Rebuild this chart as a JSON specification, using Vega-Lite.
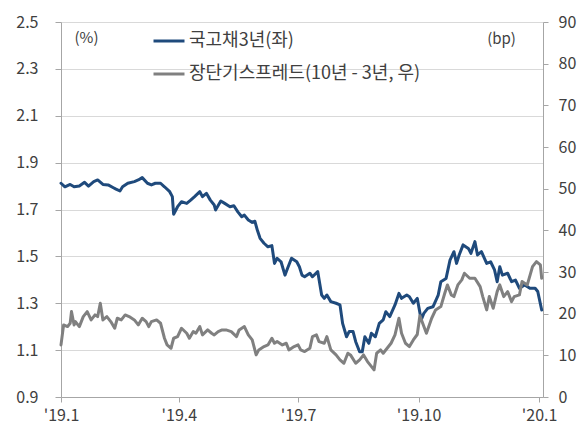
{
  "$schema": "https://vega.github.io/schema/vega-lite/v6.json",
  "width": 482,
  "height": 375,
  "autosize": {"type": "none"},
  "padding": {"left": 61, "top": 22, "right": 40, "bottom": 44},
  "background": "#ffffff",
  "config": {
    "view": {"stroke": null},
    "font": "Noto Sans CJK KR",
    "axis": {"labelFont": "Noto Sans CJK KR", "labelFontSize": 16, "labelColor": "#404040", "domainColor": "#a6a6a6", "tickColor": "#a6a6a6", "titleFont": "Noto Sans CJK KR", "titleFontWeight": "normal", "titleColor": "#404040"},
    "legend": {"labelFont": "Noto Sans CJK KR"}
  },
  "datasets": {
    "bond": [
      {"date": "2019-01-01", "y": 1.812}, {"date": "2019-01-04", "y": 1.797}, {"date": "2019-01-08", "y": 1.807}, {"date": "2019-01-11", "y": 1.797},
      {"date": "2019-01-15", "y": 1.800}, {"date": "2019-01-19", "y": 1.816}, {"date": "2019-01-22", "y": 1.800}, {"date": "2019-01-26", "y": 1.819},
      {"date": "2019-01-29", "y": 1.826}, {"date": "2019-02-02", "y": 1.807}, {"date": "2019-02-06", "y": 1.805}, {"date": "2019-02-10", "y": 1.793},
      {"date": "2019-02-12", "y": 1.787}, {"date": "2019-02-15", "y": 1.779}, {"date": "2019-02-17", "y": 1.797}, {"date": "2019-02-21", "y": 1.812},
      {"date": "2019-02-26", "y": 1.819}, {"date": "2019-03-01", "y": 1.826}, {"date": "2019-03-04", "y": 1.836}, {"date": "2019-03-08", "y": 1.812},
      {"date": "2019-03-11", "y": 1.805}, {"date": "2019-03-14", "y": 1.812}, {"date": "2019-03-18", "y": 1.812}, {"date": "2019-03-21", "y": 1.797},
      {"date": "2019-03-25", "y": 1.776}, {"date": "2019-03-27", "y": 1.755}, {"date": "2019-03-28", "y": 1.680}, {"date": "2019-03-31", "y": 1.712},
      {"date": "2019-04-03", "y": 1.733}, {"date": "2019-04-07", "y": 1.726}, {"date": "2019-04-10", "y": 1.740}, {"date": "2019-04-13", "y": 1.755},
      {"date": "2019-04-17", "y": 1.776}, {"date": "2019-04-19", "y": 1.755}, {"date": "2019-04-22", "y": 1.769}, {"date": "2019-04-25", "y": 1.740},
      {"date": "2019-04-28", "y": 1.719}, {"date": "2019-04-29", "y": 1.698}, {"date": "2019-05-03", "y": 1.736}, {"date": "2019-05-06", "y": 1.726},
      {"date": "2019-05-10", "y": 1.712}, {"date": "2019-05-13", "y": 1.716}, {"date": "2019-05-16", "y": 1.690}, {"date": "2019-05-19", "y": 1.669},
      {"date": "2019-05-21", "y": 1.676}, {"date": "2019-05-24", "y": 1.655}, {"date": "2019-05-27", "y": 1.645}, {"date": "2019-05-29", "y": 1.650},
      {"date": "2019-05-31", "y": 1.610}, {"date": "2019-06-02", "y": 1.577}, {"date": "2019-06-05", "y": 1.556}, {"date": "2019-06-08", "y": 1.541},
      {"date": "2019-06-11", "y": 1.546}, {"date": "2019-06-13", "y": 1.470}, {"date": "2019-06-15", "y": 1.492}, {"date": "2019-06-18", "y": 1.477},
      {"date": "2019-06-21", "y": 1.420}, {"date": "2019-06-23", "y": 1.449}, {"date": "2019-06-26", "y": 1.492}, {"date": "2019-06-30", "y": 1.477},
      {"date": "2019-07-02", "y": 1.456}, {"date": "2019-07-04", "y": 1.420}, {"date": "2019-07-06", "y": 1.413}, {"date": "2019-07-10", "y": 1.428},
      {"date": "2019-07-12", "y": 1.413}, {"date": "2019-07-16", "y": 1.435}, {"date": "2019-07-19", "y": 1.335}, {"date": "2019-07-21", "y": 1.321},
      {"date": "2019-07-23", "y": 1.335}, {"date": "2019-07-26", "y": 1.307}, {"date": "2019-07-30", "y": 1.300}, {"date": "2019-08-02", "y": 1.293},
      {"date": "2019-08-04", "y": 1.214}, {"date": "2019-08-07", "y": 1.157}, {"date": "2019-08-09", "y": 1.179}, {"date": "2019-08-12", "y": 1.179},
      {"date": "2019-08-14", "y": 1.136}, {"date": "2019-08-17", "y": 1.093}, {"date": "2019-08-19", "y": 1.093}, {"date": "2019-08-21", "y": 1.157},
      {"date": "2019-08-24", "y": 1.129}, {"date": "2019-08-26", "y": 1.172}, {"date": "2019-08-29", "y": 1.157}, {"date": "2019-09-01", "y": 1.214},
      {"date": "2019-09-04", "y": 1.229}, {"date": "2019-09-06", "y": 1.264}, {"date": "2019-09-09", "y": 1.243}, {"date": "2019-09-13", "y": 1.293},
      {"date": "2019-09-16", "y": 1.342}, {"date": "2019-09-18", "y": 1.321}, {"date": "2019-09-22", "y": 1.335}, {"date": "2019-09-24", "y": 1.328},
      {"date": "2019-09-27", "y": 1.300}, {"date": "2019-09-30", "y": 1.321}, {"date": "2019-10-03", "y": 1.229}, {"date": "2019-10-05", "y": 1.257},
      {"date": "2019-10-08", "y": 1.278}, {"date": "2019-10-12", "y": 1.285}, {"date": "2019-10-16", "y": 1.335}, {"date": "2019-10-18", "y": 1.392},
      {"date": "2019-10-22", "y": 1.406}, {"date": "2019-10-25", "y": 1.484}, {"date": "2019-10-28", "y": 1.520}, {"date": "2019-10-30", "y": 1.470},
      {"date": "2019-11-01", "y": 1.506}, {"date": "2019-11-04", "y": 1.549}, {"date": "2019-11-08", "y": 1.534}, {"date": "2019-11-10", "y": 1.513},
      {"date": "2019-11-13", "y": 1.563}, {"date": "2019-11-15", "y": 1.506}, {"date": "2019-11-18", "y": 1.520}, {"date": "2019-11-22", "y": 1.470},
      {"date": "2019-11-25", "y": 1.477}, {"date": "2019-11-28", "y": 1.442}, {"date": "2019-11-30", "y": 1.392}, {"date": "2019-12-02", "y": 1.456},
      {"date": "2019-12-04", "y": 1.420}, {"date": "2019-12-08", "y": 1.428}, {"date": "2019-12-11", "y": 1.392}, {"date": "2019-12-14", "y": 1.399},
      {"date": "2019-12-17", "y": 1.364}, {"date": "2019-12-21", "y": 1.378}, {"date": "2019-12-25", "y": 1.364}, {"date": "2019-12-29", "y": 1.364},
      {"date": "2019-12-31", "y": 1.350}, {"date": "2020-01-03", "y": 1.271}
    ],
    "spread": [
      {"date": "2019-01-01", "y": 12.5}, {"date": "2019-01-03", "y": 17.3}, {"date": "2019-01-06", "y": 16.9}, {"date": "2019-01-08", "y": 17.7},
      {"date": "2019-01-09", "y": 20.5}, {"date": "2019-01-11", "y": 17.3}, {"date": "2019-01-12", "y": 18.1}, {"date": "2019-01-15", "y": 16.9},
      {"date": "2019-01-18", "y": 19.3}, {"date": "2019-01-21", "y": 20.5}, {"date": "2019-01-24", "y": 18.5}, {"date": "2019-01-27", "y": 19.7},
      {"date": "2019-01-29", "y": 19.3}, {"date": "2019-01-31", "y": 22.5}, {"date": "2019-02-02", "y": 18.5}, {"date": "2019-02-05", "y": 19.3},
      {"date": "2019-02-08", "y": 18.1}, {"date": "2019-02-11", "y": 16.5}, {"date": "2019-02-13", "y": 18.9}, {"date": "2019-02-16", "y": 18.5},
      {"date": "2019-02-19", "y": 19.7}, {"date": "2019-02-22", "y": 19.3}, {"date": "2019-02-26", "y": 18.5}, {"date": "2019-03-01", "y": 17.3},
      {"date": "2019-03-04", "y": 18.9}, {"date": "2019-03-07", "y": 18.1}, {"date": "2019-03-09", "y": 16.9}, {"date": "2019-03-11", "y": 18.1},
      {"date": "2019-03-15", "y": 18.5}, {"date": "2019-03-18", "y": 17.7}, {"date": "2019-03-21", "y": 14.1}, {"date": "2019-03-23", "y": 12.5},
      {"date": "2019-03-26", "y": 11.7}, {"date": "2019-03-28", "y": 14.1}, {"date": "2019-03-31", "y": 14.5}, {"date": "2019-04-03", "y": 16.5},
      {"date": "2019-04-07", "y": 15.3}, {"date": "2019-04-09", "y": 14.1}, {"date": "2019-04-12", "y": 15.7}, {"date": "2019-04-14", "y": 15.3},
      {"date": "2019-04-17", "y": 16.9}, {"date": "2019-04-19", "y": 14.9}, {"date": "2019-04-23", "y": 16.1}, {"date": "2019-04-26", "y": 15.3},
      {"date": "2019-04-28", "y": 14.9}, {"date": "2019-05-01", "y": 15.7}, {"date": "2019-05-04", "y": 16.1}, {"date": "2019-05-07", "y": 16.1},
      {"date": "2019-05-11", "y": 15.7}, {"date": "2019-05-15", "y": 14.5}, {"date": "2019-05-17", "y": 16.1}, {"date": "2019-05-21", "y": 16.9},
      {"date": "2019-05-24", "y": 14.9}, {"date": "2019-05-27", "y": 13.7}, {"date": "2019-05-30", "y": 10.1}, {"date": "2019-06-01", "y": 11.3},
      {"date": "2019-06-05", "y": 12.1}, {"date": "2019-06-08", "y": 12.5}, {"date": "2019-06-11", "y": 14.1}, {"date": "2019-06-13", "y": 12.9},
      {"date": "2019-06-15", "y": 13.3}, {"date": "2019-06-19", "y": 12.5}, {"date": "2019-06-22", "y": 12.9}, {"date": "2019-06-24", "y": 11.3},
      {"date": "2019-06-28", "y": 12.1}, {"date": "2019-07-01", "y": 12.5}, {"date": "2019-07-03", "y": 11.3}, {"date": "2019-07-06", "y": 10.9},
      {"date": "2019-07-10", "y": 11.7}, {"date": "2019-07-12", "y": 14.5}, {"date": "2019-07-15", "y": 14.9}, {"date": "2019-07-17", "y": 13.3},
      {"date": "2019-07-21", "y": 12.9}, {"date": "2019-07-23", "y": 14.5}, {"date": "2019-07-26", "y": 11.3}, {"date": "2019-07-30", "y": 10.1},
      {"date": "2019-08-02", "y": 8.9}, {"date": "2019-08-05", "y": 8.1}, {"date": "2019-08-08", "y": 10.5}, {"date": "2019-08-10", "y": 10.1},
      {"date": "2019-08-14", "y": 8.1}, {"date": "2019-08-17", "y": 8.9}, {"date": "2019-08-20", "y": 10.1}, {"date": "2019-08-23", "y": 8.5},
      {"date": "2019-08-25", "y": 7.7}, {"date": "2019-08-28", "y": 6.5}, {"date": "2019-08-30", "y": 10.5}, {"date": "2019-09-02", "y": 11.3},
      {"date": "2019-09-04", "y": 10.5}, {"date": "2019-09-07", "y": 11.7}, {"date": "2019-09-10", "y": 12.9}, {"date": "2019-09-13", "y": 14.9},
      {"date": "2019-09-16", "y": 18.9}, {"date": "2019-09-18", "y": 15.3}, {"date": "2019-09-21", "y": 12.9}, {"date": "2019-09-24", "y": 12.1},
      {"date": "2019-09-27", "y": 13.7}, {"date": "2019-09-30", "y": 15.0}, {"date": "2019-10-02", "y": 19.5}, {"date": "2019-10-07", "y": 15.3},
      {"date": "2019-10-11", "y": 18.9}, {"date": "2019-10-14", "y": 20.9}, {"date": "2019-10-18", "y": 21.7}, {"date": "2019-10-21", "y": 24.9},
      {"date": "2019-10-23", "y": 26.9}, {"date": "2019-10-26", "y": 24.5}, {"date": "2019-10-28", "y": 24.1}, {"date": "2019-10-31", "y": 26.9},
      {"date": "2019-11-03", "y": 28.1}, {"date": "2019-11-05", "y": 29.7}, {"date": "2019-11-09", "y": 28.5}, {"date": "2019-11-13", "y": 28.5},
      {"date": "2019-11-17", "y": 26.5}, {"date": "2019-11-19", "y": 24.1}, {"date": "2019-11-22", "y": 20.9}, {"date": "2019-11-24", "y": 24.1},
      {"date": "2019-11-27", "y": 21.3}, {"date": "2019-11-30", "y": 25.3}, {"date": "2019-12-02", "y": 26.9}, {"date": "2019-12-05", "y": 24.1},
      {"date": "2019-12-08", "y": 25.3}, {"date": "2019-12-11", "y": 22.9}, {"date": "2019-12-13", "y": 24.1}, {"date": "2019-12-17", "y": 24.5},
      {"date": "2019-12-19", "y": 27.7}, {"date": "2019-12-23", "y": 26.9}, {"date": "2019-12-27", "y": 31.3}, {"date": "2019-12-30", "y": 32.5},
      {"date": "2020-01-02", "y": 31.7}, {"date": "2020-01-03", "y": 28.5}
    ]
  },
  "layer": [
    {
      "data": {"name": "bond"},
      "mark": {"type": "line", "strokeWidth": 3, "strokeJoin": "round", "strokeCap": "round"},
      "encoding": {
        "x": {
          "field": "date", "type": "temporal",
          "scale": {"type": "utc", "domain": [{"year": 2019, "month": 1, "date": 1, "utc": true}, {"year": 2020, "month": 1, "date": 4, "utc": true}]},
          "axis": {
            "title": null, "grid": false, "tickSize": 5, "labelPadding": 5, "labelFlush": false,
            "values": [{"year": 2019, "month": 1, "date": 1, "utc": true}, {"year": 2019, "month": 4, "date": 1, "utc": true}, {"year": 2019, "month": 7, "date": 1, "utc": true}, {"year": 2019, "month": 10, "date": 1, "utc": true}, {"year": 2020, "month": 1, "date": 1, "utc": true}],
            "labelExpr": "\"'\" + utcFormat(datum.value, '%y') + '.' + (utcmonth(datum.value) + 1)"
          }
        },
        "y": {
          "field": "y", "type": "quantitative",
          "scale": {"domain": [0.9, 2.5], "nice": false, "zero": false},
          "axis": {
            "values": [0.9, 1.1, 1.3, 1.5, 1.7, 1.9, 2.1, 2.3, 2.5], "format": ".1f",
            "grid": true, "gridColor": "#d9d9d9", "gridWidth": 1, "tickSize": 6, "labelPadding": 17,
            "title": "(%)", "titleAngle": 0, "titleX": 25, "titleY": 15, "titleAlign": "center", "titleBaseline": "middle", "titleFontSize": 15
          }
        },
        "color": {
          "datum": "국고채3년(좌)",
          "scale": {"domain": ["국고채3년(좌)", "장단기스프레드(10년 - 3년, 우)"], "range": ["#1f4a7c", "#808080"]},
          "legend": {
            "title": null, "orient": "none", "legendX": 91, "legendY": 9, "symbolType": "stroke", "symbolSize": 961,
            "symbolStrokeWidth": 3, "labelFontSize": 18, "labelColor": "#404040", "labelOffset": 3, "rowPadding": 13, "clipHeight": 20, "labelLimit": 400
          }
        }
      }
    },
    {
      "data": {"name": "spread"},
      "mark": {"type": "line", "strokeWidth": 3, "strokeJoin": "round", "strokeCap": "round"},
      "encoding": {
        "x": {"field": "date", "type": "temporal"},
        "y": {
          "field": "y", "type": "quantitative",
          "scale": {"domain": [0, 90], "nice": false},
          "axis": {
            "orient": "right", "values": [0, 10, 20, 30, 40, 50, 60, 70, 80, 90], "grid": false, "tickSize": 5, "labelPadding": 10,
            "title": "(bp)", "titleAngle": 0, "titleX": -42, "titleY": 16, "titleAlign": "center", "titleBaseline": "middle", "titleFontSize": 15
          }
        },
        "color": {"datum": "장단기스프레드(10년 - 3년, 우)"}
      }
    }
  ],
  "resolve": {"scale": {"y": "independent"}}
}
